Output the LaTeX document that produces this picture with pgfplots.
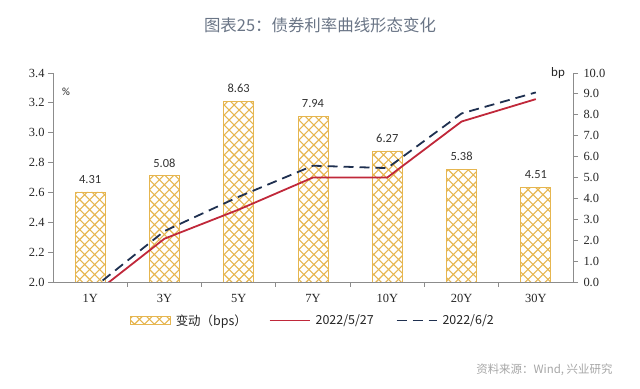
\documentclass[border=0pt]{standalone}
\usepackage{fontspec}
\setmainfont{Liberation Serif}
\newfontfamily\cjk{Noto Sans CJK SC}
\newfontfamily\carl{Carlito}
\usepackage{pgfplots}
\pgfplotsset{compat=1.18}
\usetikzlibrary{patterns}
\definecolor{gold}{HTML}{E6B650}
\definecolor{redl}{HTML}{C0283A}
\definecolor{navy}{HTML}{1F3050}
\definecolor{axgray}{HTML}{8C8C8C}
\definecolor{titlec}{HTML}{6A7586}
\pgfdeclarepatternformonly{mycross}{\pgfqpoint{-1pt}{-1pt}}{\pgfqpoint{11pt}{11pt}}{\pgfqpoint{10pt}{10pt}}{%
  \pgfsetlinewidth{1.1pt}%
  \pgfpathmoveto{\pgfqpoint{0pt}{0pt}}\pgfpathlineto{\pgfqpoint{10.1pt}{10.1pt}}%
  \pgfpathmoveto{\pgfqpoint{0pt}{10pt}}\pgfpathlineto{\pgfqpoint{10.1pt}{-0.1pt}}%
  \pgfusepath{stroke}}
\pgfplotsset{
  widelinelegend/.style={legend image code/.code={\draw[##1] (0bp,0bp) -- (40bp,0bp);}},
  barlegend/.style={legend image code/.code={\draw[draw=gold, line width=0.6bp, pattern=mycross, pattern color=gold] (0bp,-4bp) rectangle (40bp,4bp);}},
}
\pgfplotstableread{
x bps
0 4.31
1 5.08
2 8.63
3 7.94
4 6.27
5 5.38
6 4.51
}\bars
\pgfplotstableread{
x y
0 1.900
1 2.290
2 2.485
3 2.700
4 2.700
5 3.075
6 3.225
}\redline
\pgfplotstableread{
x y
0 1.943
1 2.341
2 2.571
3 2.779
4 2.763
5 3.129
6 3.270
}\dashline
\begin{document}
\begin{tikzpicture}
\useasboundingbox (0,0) rectangle (640bp,389bp);
\node[font=\cjk\fontsize{16.5}{18}\selectfont, text=titlec] at (320bp,364bp) {图表25：债券利率曲线形态变化};
\node[font=\cjk\fontsize{11.5}{13}\selectfont, text=black!35, anchor=east] at (616bp,19bp) {资料来源：Wind, 兴业研究};
\node[font=\carl\fontsize{13}{15}\selectfont, text=black!85] at (558bp,316bp) {bp};
\node[font=\carl\fontsize{11}{13}\selectfont, text=black!85] at (66bp,297bp) {\%};
% bars on right axis
\begin{axis}[
  at={(53bp,107bp)}, anchor=south west,
  scale only axis, width=520bp, height=209bp,
  xmin=-0.5, xmax=6.5, ymin=0, ymax=10,
  axis y line*=right, axis x line*=bottom,
  axis line style={axgray, line width=0.8bp},
  tick style={axgray, line width=0.8bp},
  xtick={0,...,6}, xticklabels={1Y,3Y,5Y,7Y,10Y,20Y,30Y},
  major x tick style={draw=none},
  minor xtick={0.5,1.5,...,5.5},
  minor tick length=5bp,
  x tick label style={yshift=-4bp},
  ytick={0,1,...,10}, major tick length=5bp,
  tick align=outside,
  y tick label style={xshift=2bp},
  yticklabel style={/pgf/number format/.cd, fixed, fixed zerofill, precision=1},
  /pgf/number format/assume math mode=true,
  tick label style={font=\fontsize{12.5}{14}\selectfont, text=black!85},
  ybar, bar width=30bp,
  nodes near coords,
  every node near coord/.append style={font=\carl\fontsize{12.5}{14}\selectfont, text=black!80, yshift=5bp,
     /pgf/number format/.cd, fixed, fixed zerofill, precision=2},
]
\addplot[draw=gold, line width=0.8bp, pattern=mycross, pattern color=gold] table[x=x,y=bps]{\bars};
\end{axis}
% lines on left axis
\begin{axis}[
  at={(53bp,107bp)}, anchor=south west,
  scale only axis, width=520bp, height=209bp,
  xmin=-0.5, xmax=6.5, ymin=2.0, ymax=3.4,
  axis y line*=left, axis x line=none,
  axis line style={axgray, line width=0.8bp},
  tick style={axgray, line width=0.8bp},
  ytick={2.0,2.2,...,3.41}, major tick length=5bp, tick align=outside,
  yticklabel style={/pgf/number format/.cd, fixed, fixed zerofill, precision=1},
  /pgf/number format/assume math mode=true,
  tick label style={font=\fontsize{12.5}{14}\selectfont, text=black!85},
  legend columns=3,
  legend style={at={(0.5,-0.145)}, anchor=north, draw=none, fill=none,
    font=\cjk\fontsize{12.5}{14}\selectfont, text=black!85,
    /tikz/every odd column/.append style={column sep=3bp},
    /tikz/every even column/.append style={column sep=20bp},
    inner sep=0pt},
]
\addlegendimage{barlegend}
\addlegendentry{变动（bps）}
\addplot[redl, line width=1.8bp, widelinelegend] table[x=x,y=y]{\redline};
\addlegendentry{2022/5/27}
\addplot[navy, line width=1.8bp, dash pattern=on 10bp off 6bp, widelinelegend] table[x=x,y=y]{\dashline};
\addlegendentry{2022/6/2}
\end{axis}
\end{tikzpicture}
\end{document}
